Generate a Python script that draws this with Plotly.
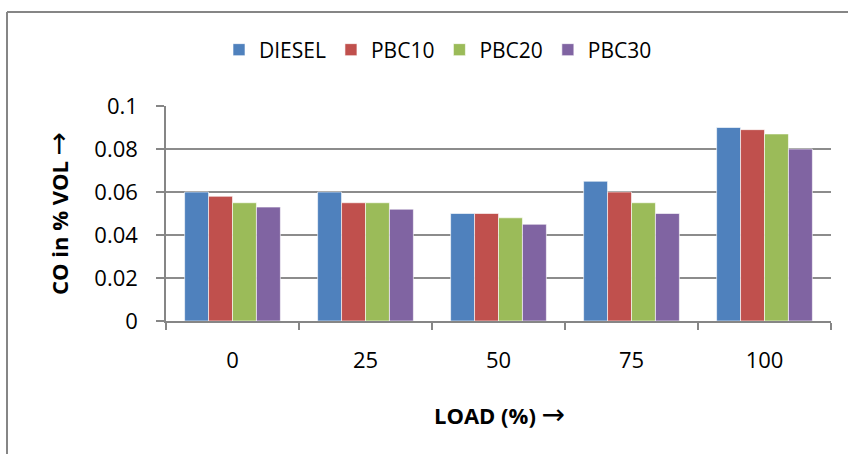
import plotly.graph_objects as go

loads = ["0", "25", "50", "75", "100"]
diesel = [0.060, 0.060, 0.050, 0.065, 0.090]
pbc10 = [0.058, 0.055, 0.050, 0.060, 0.089]
pbc20 = [0.055, 0.055, 0.048, 0.055, 0.087]
pbc30 = [0.053, 0.052, 0.045, 0.050, 0.080]
series_names = ["DIESEL", "PBC10", "PBC20", "PBC30"]
colors = ["#4F81BD", "#C0504D", "#9BBB59", "#8064A2"]

W, H = 848, 454
L, R, T, B = 166, 17, 106, 133
pw, ph = W - L - R, H - T - B

def px2x(p):
    return (p - L) / pw

def py2y(p):
    return (H - B - p) / ph

FONT = "Open Sans"
ARROW = '<span style="font-family:DejaVu Sans;font-weight:normal;font-size:28px">→</span>'

fig = go.Figure()
for name, vals, c in zip(series_names, [diesel, pbc10, pbc20, pbc30], colors):
    fig.add_trace(go.Bar(x=loads, y=vals, name=name, marker_color=c,
                         marker_line=dict(color="rgba(255,255,255,0.6)", width=1)))

border = dict(color="#868686", width=2)
fig.update_layout(
    width=W, height=H,
    margin=dict(l=L, r=R, t=T, b=B, autoexpand=False),
    paper_bgcolor="white", plot_bgcolor="white",
    barmode="group", bargap=0.28, bargroupgap=0,
    font=dict(family=FONT, color="black", size=21),
    showlegend=True,
    legend=dict(orientation="h", x=px2x(438), y=py2y(50), xanchor="center", yanchor="middle",
                font=dict(size=21, family=FONT), itemwidth=30, tracegroupgap=0,
                bgcolor="rgba(0,0,0,0)"),
    xaxis=dict(type="category", showline=True, linecolor="#868686", linewidth=1.5,
               ticks="outside", tickson="boundaries", ticklen=7, tickcolor="#868686",
               tickwidth=1.5, showgrid=False, tickfont=dict(size=22, family=FONT),
               ticklabelstandoff=19, fixedrange=True),
    yaxis=dict(range=[0, 0.1], tickvals=[0, 0.02, 0.04, 0.06, 0.08, 0.1],
               ticktext=["0", "0.02", "0.04", "0.06", "0.08", "0.1"],
               showline=True, linecolor="#868686", linewidth=1.5,
               ticks="outside", ticklen=8, tickcolor="#868686", tickwidth=1.5,
               showgrid=True, gridcolor="#8c8c8c", gridwidth=1.5,
               zeroline=False, tickfont=dict(size=22, family=FONT),
               ticklabelstandoff=14, fixedrange=True),
    shapes=[
        dict(type="line", xref="paper", yref="paper", x0=px2x(7), x1=px2x(7),
             y0=py2y(480), y1=py2y(12), line=border, layer="below"),
        dict(type="line", xref="paper", yref="paper", x0=px2x(7), x1=px2x(880),
             y0=py2y(12), y1=py2y(12), line=border, layer="below"),
    ],
    annotations=[
        dict(text="<b>LOAD (%) </b>" + ARROW, xref="paper", yref="paper", x=px2x(499), y=py2y(414),
             xanchor="center", yanchor="middle", showarrow=False, font=dict(size=22, family=FONT)),
        dict(text="<b>CO in % VOL </b>" + ARROW, xref="paper", yref="paper", x=px2x(58), y=py2y(213),
             xanchor="center", yanchor="middle", showarrow=False, textangle=-90,
             font=dict(size=22, family=FONT)),
    ],
)

fig.write_html("out.html")
